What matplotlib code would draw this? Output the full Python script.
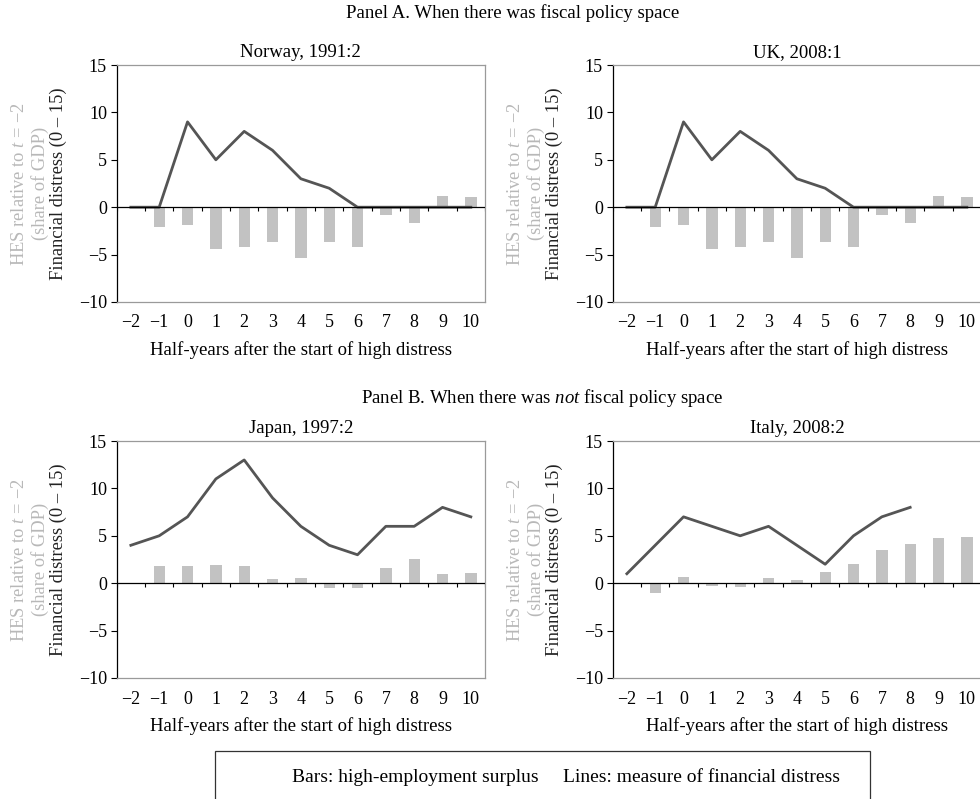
import matplotlib.pyplot as plt
from matplotlib.patches import Rectangle
import numpy as np

plt.rcParams['font.family'] = ['Liberation Serif', 'DejaVu Serif']
plt.rcParams['mathtext.fontset'] = 'custom'
plt.rcParams['mathtext.rm'] = 'Liberation Serif'
plt.rcParams['mathtext.it'] = 'Liberation Serif:italic'

half_years = [-2, -1, 0, 1, 2, 3, 4, 5, 6, 7, 8, 9, 10]

# Norway and UK (same series as published)
norway_hes = [0, -2.1, -1.9, -4.4, -4.15, -3.7, -5.4, -3.7, -4.2, -0.8, -1.7, 1.2, 1.1]
norway_distress = [0, 0, 9, 5, 8, 6, 3, 2, 0, 0, 0, 0, 0]
uk_hes = [0, -2.1, -1.9, -4.4, -4.15, -3.7, -5.4, -3.7, -4.2, -0.8, -1.7, 1.2, 1.1]
uk_distress = [0, 0, 9, 5, 8, 6, 3, 2, 0, 0, 0, 0, 0]

japan_hes = [0, 1.8, 1.85, 1.95, 1.85, 0.4, 0.6, -0.55, -0.55, 1.6, 2.55, 0.95, 1.05]
japan_distress = [4, 5, 7, 11, 13, 9, 6, 4, 3, 6, 6, 8, 7]

italy_hes = [0, -1.0, 0.7, -0.25, -0.35, 0.5, 0.3, 1.15, 2.0, 3.45, 4.1, 4.75, 4.9]
italy_distress = [1, 4, 7, 6, 5, 6, 4, 2, 5, 7, 8, np.nan, np.nan]

panels = [
    ("Norway, 1991:2", norway_hes, norway_distress),
    ("UK, 2008:1", uk_hes, uk_distress),
    ("Japan, 1997:2", japan_hes, japan_distress),
    ("Italy, 2008:2", italy_hes, italy_distress),
]

bar_color = '#c2c2c2'
line_color = '#555555'
label_gray = '#b8b8b8'
frame_gray = '#9a9a9a'

fig = plt.figure(figsize=(9.8, 7.99), dpi=100)

W, H = 980, 799
boxes = [(116.7, 65), (612.7, 65), (116.7, 441), (612.7, 441)]
ax_w, ax_h = 368.3, 237

for (title, hes, distress), (x0, y0) in zip(panels, boxes):
    ax = fig.add_axes([x0 / W, 1 - (y0 + ax_h) / H, ax_w / W, ax_h / H])
    pos = np.arange(len(half_years))
    ax.bar(pos, hes, width=0.4, color=bar_color, zorder=2)
    ax.plot(pos, distress, color=line_color, lw=2.0, zorder=3)
    ax.axhline(0, color='black', lw=0.9, zorder=4)
    # category separators hanging below the zero line
    ax.vlines(np.arange(len(half_years) + 1) - 0.5, -0.45, 0, color='black', lw=0.8, zorder=4)

    ax.set_xlim(-0.5, len(half_years) - 0.5)
    ax.set_ylim(-10, 15)
    ax.set_yticks([-10, -5, 0, 5, 10, 15])
    ax.set_yticklabels(['\u221210', '\u22125', '0', '5', '10', '15'])
    ax.set_xticks(pos)
    ax.set_xticklabels([str(v).replace('-', '\u2212') for v in half_years])
    ax.tick_params(axis='x', length=0, pad=9, labelsize=13)
    ax.tick_params(axis='y', direction='out', length=4, width=0.8, pad=3, labelsize=13)

    ax.spines['left'].set_color('black')
    ax.spines['left'].set_linewidth(0.9)
    for s in ('top', 'right', 'bottom'):
        ax.spines[s].set_color(frame_gray)
        ax.spines[s].set_linewidth(0.9)

    ax.set_title(title, fontsize=13.5, pad=6)
    ax.set_xlabel("Half-years after the start of high distress", fontsize=13.5, labelpad=7)

    ax.text(-0.263, 0.5, "HES relative to $t$ = \u22122", transform=ax.transAxes,
            rotation=90, ha='center', va='center', fontsize=13.3, color=label_gray)
    ax.text(-0.208, 0.5, "(share of GDP)", transform=ax.transAxes,
            rotation=90, ha='center', va='center', fontsize=13.3, color=label_gray)
    ax.text(-0.159, 0.5, "Financial distress (0 \u2013 15)", transform=ax.transAxes,
            rotation=90, ha='center', va='center', fontsize=13.3, color='#222222')

fig.text(0.523, 1 - 13 / H, "Panel A. When there was fiscal policy space",
         ha='center', va='center', fontsize=13.5)
fig.text(0.553, 1 - 398 / H, "Panel B. When there was $not$ fiscal policy space",
         ha='center', va='center', fontsize=13.5)

# key box at the foot of the figure
fig.patches.append(Rectangle((215 / W, -0.02), (870 - 215) / W, 0.02 + 1 - 751 / H,
                             transform=fig.transFigure, fill=False,
                             edgecolor='#333333', lw=0.9))
fig.text(292 / W, 1 - 777 / H, "Bars: high-employment surplus",
         ha='left', va='center', fontsize=14)
fig.text(563 / W, 1 - 777 / H, "Lines: measure of financial distress",
         ha='left', va='center', fontsize=14)

fig.savefig('out.png', dpi=100)
